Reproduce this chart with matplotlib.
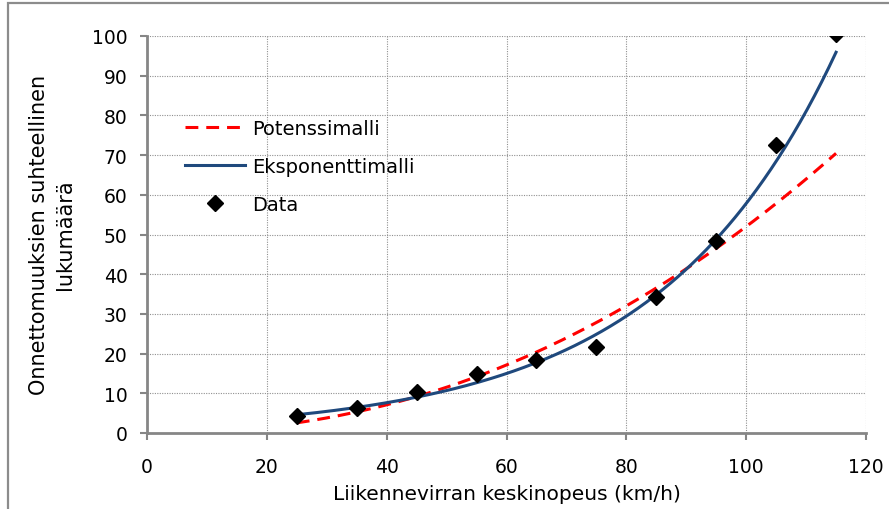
import numpy as np
import matplotlib.pyplot as plt
from matplotlib.patches import Rectangle

# Average traffic speed (km/h) and relative number of accidents
speed = np.array([25, 35, 45, 55, 65, 75, 85, 95, 105, 115])
accidents = np.array([4.2, 6.4, 10.4, 14.9, 18.4, 21.7, 34.2, 48.4, 72.6, 100.5])

# Model coefficients: power y = a * x**b, exponential y = a * exp(b * x)
pow_a, pow_b = 0.002344, 2.173
exp_a, exp_b = 1.978, 0.03375

x_ticks = [0, 20, 40, 60, 80, 100, 120]
y_ticks = [0, 10, 20, 30, 40, 50, 60, 70, 80, 90, 100]

labels = ["Potenssimalli", "Eksponenttimalli", "Data"]
xlabel = "Liikennevirran keskinopeus (km/h)"
ylabel = "Onnettomuuksien suhteellinen\nlukumäärä"

xs = np.linspace(speed.min(), speed.max(), 300)
y_pow = pow_a * xs ** pow_b
y_exp = exp_a * np.exp(exp_b * xs)

plt.rcParams['font.family'] = ['DejaVu Sans']

fig = plt.figure(figsize=(8.89, 5.10), dpi=100)
fig.patch.set_facecolor('white')
# outer chart frame
fig.patches.append(Rectangle((7.5 / 889, -0.1), 1.2, 1.1 - 3.5 / 510, transform=fig.transFigure,
                             fill=False, edgecolor='#8c8c8c', linewidth=1.6))

ax = fig.add_axes([147 / 889, 1 - 434 / 510, (866 - 147) / 889, (434 - 37) / 510])

grid_kw = dict(color='#909090', linestyle=(0, (1, 1.2)), linewidth=0.8)
for t in x_ticks[1:]:
    ax.axvline(t, **grid_kw, zorder=0)
for t in y_ticks[1:]:
    ax.axhline(t, **grid_kw, zorder=0)

ax.plot(xs, y_pow, color='#ff0000', linestyle=(0, (4.2, 2.6)), linewidth=2.2, label=labels[0], zorder=2)
ax.plot(xs, y_exp, color='#1f497d', linewidth=2.2, label=labels[1], zorder=3)
ax.plot(speed, accidents, linestyle='none', marker='D', markersize=8.5, color='black', label=labels[2], zorder=4)

ax.set_xlim(0, 120)
ax.set_ylim(0, 100)
ax.set_xticks(x_ticks)
ax.set_yticks(y_ticks)
ax.tick_params(axis='both', labelsize=13.5, colors='#868686', labelcolor='black',
               direction='out', length=5, width=1.5)
ax.tick_params(axis='x', pad=12)
ax.tick_params(axis='y', pad=9)
for side in ['top', 'right']:
    ax.spines[side].set_visible(False)
for side in ['left', 'bottom']:
    ax.spines[side].set_color('#868686')
    ax.spines[side].set_linewidth(2)

ax.set_xlabel(xlabel, fontsize=14.5, labelpad=6)
fig.text(52 / 889, 1 - 235 / 510, ylabel, rotation=90, ha='center', va='center',
         fontsize=15, multialignment='center', linespacing=1.4)

ax.legend(loc='upper left', bbox_to_anchor=(0.053, 0.792), frameon=False, fontsize=14,
          handlelength=3.1, handletextpad=0.35, labelspacing=0.98, borderpad=0, borderaxespad=0)

fig.savefig('out.png', dpi=100)
